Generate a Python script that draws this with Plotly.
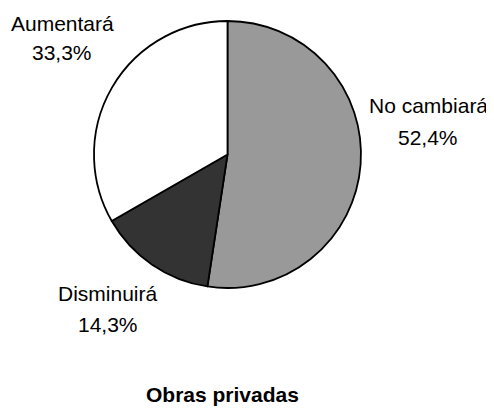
import plotly.graph_objects as go

categories = ["No cambiará", "Disminuirá", "Aumentará"]
values = [52.4, 14.3, 33.3]
colors = ["#999999", "#333333", "#ffffff"]
title_text = "Obras privadas"

W, H = 494, 414
OFF = 8  # browser default body margin

def px(x):
    return (x - OFF) / W

def py(y):
    return 1 - (y - OFF) / H

FONT = "Liberation Sans, Arial, sans-serif"

fig = go.Figure(go.Pie(
    labels=categories,
    values=values,
    sort=False,
    direction="clockwise",
    rotation=0,
    marker=dict(colors=colors, line=dict(color="#000000", width=1.8)),
    textinfo="none",
    hoverinfo="label+percent",
    showlegend=False,
    domain=dict(x=[px(93), px(362)], y=[py(288), py(21)]),
))

# label block positions (image pixel coords): (x, y of name line, y of percent line)
label_pos = {
    "No cambiará": (428, 106, 137),
    "Disminuirá": (108, 293, 324),
    "Aumentará": (62, 24, 52),
}

def fmt(v):
    return f"{v:.1f}".replace(".", ",") + "%"

total = sum(values)
annotations = []
for cat, val in zip(categories, values):
    x, y1, y2 = label_pos[cat]
    for txt, yy in ((cat, y1), (fmt(100 * val / total), y2)):
        annotations.append(dict(
            x=px(x), y=py(yy), xref="paper", yref="paper",
            text=txt, showarrow=False, xanchor="center", yanchor="middle",
            font=dict(family=FONT, size=21, color="#000000"),
        ))

annotations.append(dict(
    x=px(222), y=py(394), xref="paper", yref="paper",
    text=f"<b>{title_text}</b>", showarrow=False,
    xanchor="center", yanchor="middle",
    font=dict(family=FONT, size=21, color="#000000"),
))

fig.update_layout(
    width=W, height=H,
    margin=dict(l=0, r=0, t=0, b=0),
    paper_bgcolor="#ffffff",
    plot_bgcolor="#ffffff",
    annotations=annotations,
)

fig.write_html("out.html")
